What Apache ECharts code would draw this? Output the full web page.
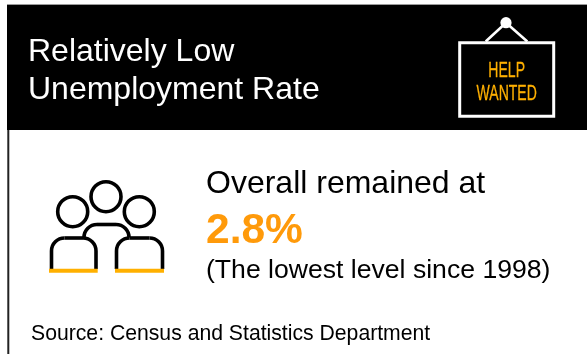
<!DOCTYPE html>
<html>
<head>
<meta charset="utf-8">
<style>html,body{margin:0;padding:0;background:#fff}#main{width:587px;height:354px}</style>
<script src="https://cdn.jsdelivr.net/npm/echarts@6/dist/echarts.min.js"></script>
</head>
<body>
<div id="main"></div>
<script>
// Panel copy and headline figure
const titleLines = ['Relatively Low', 'Unemployment Rate'];
const signLines = ['HELP', 'WANTED'];
const leadText = 'Overall remained at';
const rateValue = 2.8;
const noteText = '(The lowest level since 1998)';
const sourceText = 'Source: Census and Statistics Department';

const FONT = '"Liberation Sans", Arial, sans-serif';
const INK = '#000';
const AMBER = '#FFB000';
const ORANGE = '#FF9A0A';
const LINE = 3.6;
const MID = 0.26; // distance from baseline to the text's vertical anchor, in em

const label = (x, baseline, text, size, fill, weight) => ({
  type: 'text', x, y: baseline - MID * size,
  style: { text, fill, font: `${weight || 'normal'} ${size}px ${FONT}`, align: 'left', verticalAlign: 'middle' }
});
const ring = (cx, cy, r) => ({
  type: 'circle', shape: { cx, cy, r },
  style: { fill: 'none', stroke: INK, lineWidth: LINE }
});
const stroke = { fill: 'none', stroke: INK, lineWidth: LINE };
const segment = (points) => ({ type: 'polyline', shape: { points }, style: stroke });
const corner = (cx, cy, r, startAngle, endAngle) => ({
  type: 'arc', shape: { cx, cy, r, startAngle, endAngle, clockwise: true }, style: stroke
});
// Rounded shoulder outline: open at the bottom, closed over the top
const shoulders = (x1, x2, top, bottom, r) => [
  segment([[x1, bottom], [x1, top + r]]),
  corner(x1 + r, top + r, r, Math.PI, Math.PI * 1.5),
  segment([[x1 + r, top], [x2 - r, top]]),
  corner(x2 - r, top + r, r, Math.PI * 1.5, Math.PI * 2),
  segment([[x2, top + r], [x2, bottom]])
];
const baseBar = (x, width) => ({
  type: 'rect', shape: { x, y: 268.7, width, height: 4 }, style: { fill: AMBER }
});
const signText = (baseline, text) => ({
  type: 'text', x: 506.7, y: baseline - MID * 22.3, scaleX: 0.63,
  style: { text, fill: AMBER, stroke: AMBER, lineWidth: 0.3, font: `22.3px ${FONT}`, align: 'center', verticalAlign: 'middle' }
});

const chart = echarts.init(document.getElementById('main'), null, { renderer: 'canvas' });
chart.setOption({
  animation: false,
  backgroundColor: '#fff',
  graphic: { elements: [
    // Frame and header band
    { type: 'rect', shape: { x: 7.3, y: 4, width: 2, height: 350 }, style: { fill: '#222' } },
    { type: 'rect', shape: { x: 7, y: 5, width: 580, height: 125 }, style: { fill: '#000' } },
    { type: 'rect', shape: { x: 7, y: 4, width: 580, height: 1 }, style: { fill: '#9a9a9a' } },

    label(28, 60.7, titleLines[0], 32, '#fff'),
    label(28, 98.3, titleLines[1], 32, '#fff'),

    // Hanging sign
    { type: 'polyline', shape: { points: [[485.7, 41.5], [506, 22.7], [527.3, 41.5]] },
      style: { fill: 'none', stroke: '#fff', lineWidth: 2.6 } },
    { type: 'circle', shape: { cx: 506, cy: 22.7, r: 5.6 }, style: { fill: '#fff' } },
    { type: 'rect', shape: { x: 459.7, y: 42.8, width: 94, height: 73.4 },
      style: { fill: '#000', stroke: '#fff', lineWidth: 3 } },
    signText(76.7, signLines[0]),
    signText(100, signLines[1]),

    // People icon
    ring(106, 196.7, 15),
    ring(72.7, 211.7, 15),
    ring(139.3, 211.7, 15),
    corner(97, 237.5, 13, Math.PI, Math.PI * 1.5),
    segment([[97, 224.5], [116, 224.5]]),
    corner(116, 237.5, 13, Math.PI * 1.5, Math.PI * 2),
    ...shoulders(51.5, 96, 238, 269, 13),
    ...shoulders(116.5, 162.5, 238, 269, 13),
    baseBar(49, 48.7),
    baseBar(115, 49),

    // Headline block
    label(206, 192.7, leadText, 32, INK),
    label(206, 242, rateValue.toFixed(1) + '%', 42.5, ORANGE, 'bold'),
    label(206, 277.5, noteText, 26.6, INK),
    label(31, 340, sourceText, 21.2, INK)
  ] }
});
</script>
</body>
</html>
